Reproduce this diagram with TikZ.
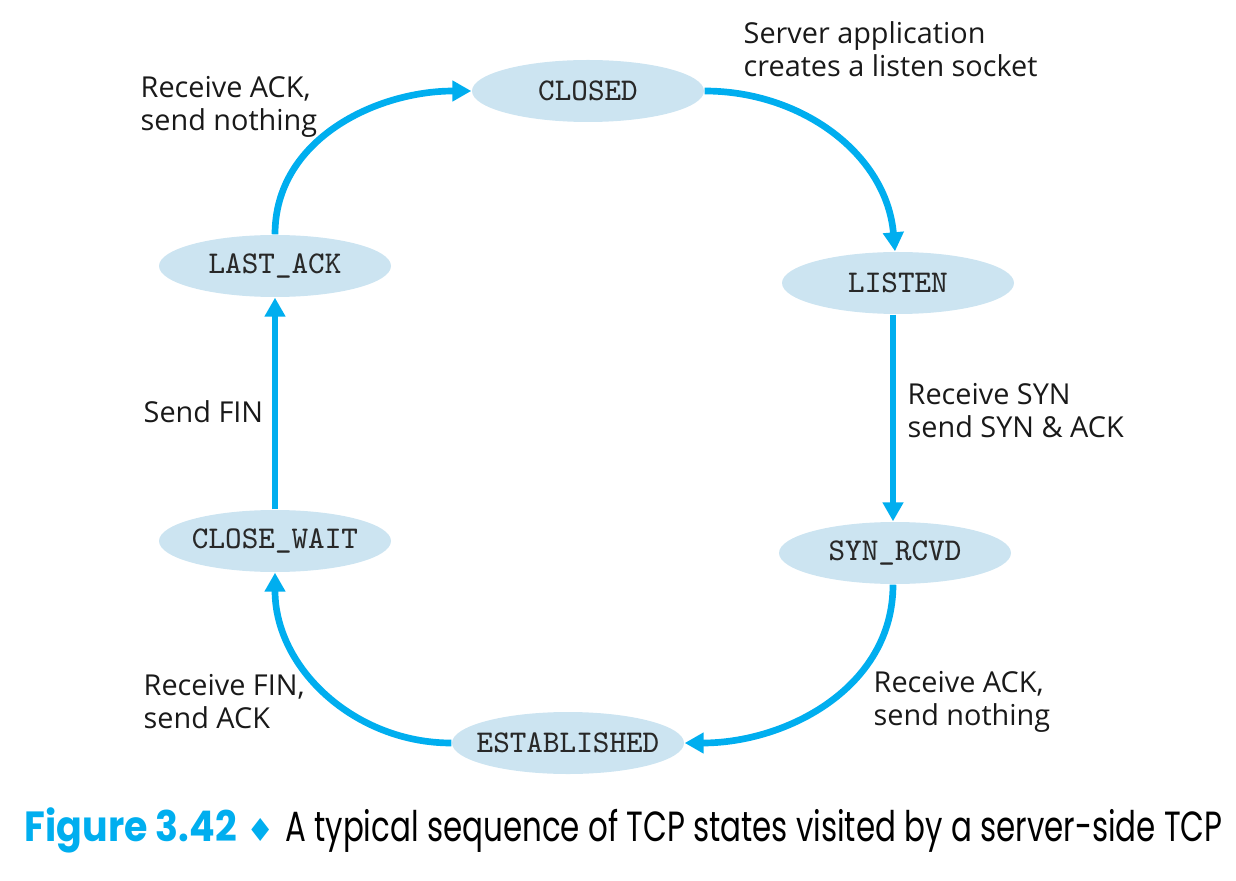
\documentclass[tikz,border=0pt]{standalone}
\usepackage{fontspec}
\setmainfont{Open Sans}
\newfontfamily\capfont[FakeStretch=0.90]{Poppins}
\newfontfamily\capbody[FakeStretch=0.733]{Poppins}
\newfontfamily\symfont{DejaVu Sans}
\usetikzlibrary{arrows.meta,shapes.geometric}
\definecolor{tcpblue}{RGB}{0,174,239}
\definecolor{statefill}{RGB}{204,228,241}
\definecolor{statetext}{RGB}{40,40,40}
\tikzset{
  tcpstate/.style={ellipse, fill=statefill, minimum width=2.32cm, minimum height=0.62cm,
    inner xsep=-0.15cm, inner ysep=0pt, font=\ttfamily\fontsize{9}{10}\selectfont, text=statetext},
  trans/.style={draw=tcpblue, line width=1.9pt, arrows={-{Triangle[length=0.19cm, width=0.2cm]}}},
  translabel/.style={anchor=west, align=left, inner sep=0pt,
    font=\fontsize{8.2}{9.4}\selectfont, text=black!90}
}
\begin{document}
\begin{tikzpicture}
            \useasboundingbox (0,0) rectangle (12.36,8.80);

            \node [tcpstate] (closed) at (5.88,7.89) {CLOSED};
            \node [tcpstate] (listen) at (8.98,5.97) {LISTEN};
            \node [tcpstate] (synrcvd) at (8.95,3.27) {SYN\_RCVD};
            \node [tcpstate] (established) at (5.68,1.37) {ESTABLISHED};
            \node [tcpstate] (closewait) at (2.75,3.39) {CLOSE\_WAIT};
            \node [tcpstate] (lastack) at (2.75,6.14) {LAST\_ACK};

            \draw [trans] (closed.east) to [out=0, in=95] ([xshift=-0.03cm]listen.north);
            \draw [trans] ([xshift=-0.05cm]listen.south) -- ([xshift=-0.02cm]synrcvd.north);
            \draw [trans] ([xshift=-0.02cm]synrcvd.south) to [out=-90, in=0] (established.east);
            \draw [trans] (established.west) to [out=180, in=-90] (closewait.south);
            \draw [trans] (closewait.north) -- (lastack.south);
            \draw [trans] (lastack.north) to [out=90, in=180] (closed.west);

            \node [translabel] (lcreate) at (7.43,8.31) {Server application\\creates a listen socket};
            \node [translabel] (lsyn) at (9.07,4.69) {Receive SYN\\send SYN \& ACK};
            \node [translabel] (lack) at (8.73,1.78) {Receive ACK,\\send nothing};
            \node [translabel] (lfinack) at (1.43,1.78) {Receive FIN,\\send ACK};
            \node [translabel] (lfin) at (1.43,4.68) {Send FIN};
            \node [translabel] (llastack) at (1.40,7.73) {Receive ACK,\\send nothing};

            \node [anchor=west, inner sep=0pt] (caption) at (0.24,0.50)
            {\capfont\fontsize{12}{14}\selectfont\textcolor{tcpblue}{\bfseries Figure 3.42}
             {\symfont\fontsize{9}{14}\selectfont\textcolor{tcpblue}{♦}}
             \capbody A typical sequence of TCP states visited by a server-side TCP};

\end{tikzpicture}
\end{document}
